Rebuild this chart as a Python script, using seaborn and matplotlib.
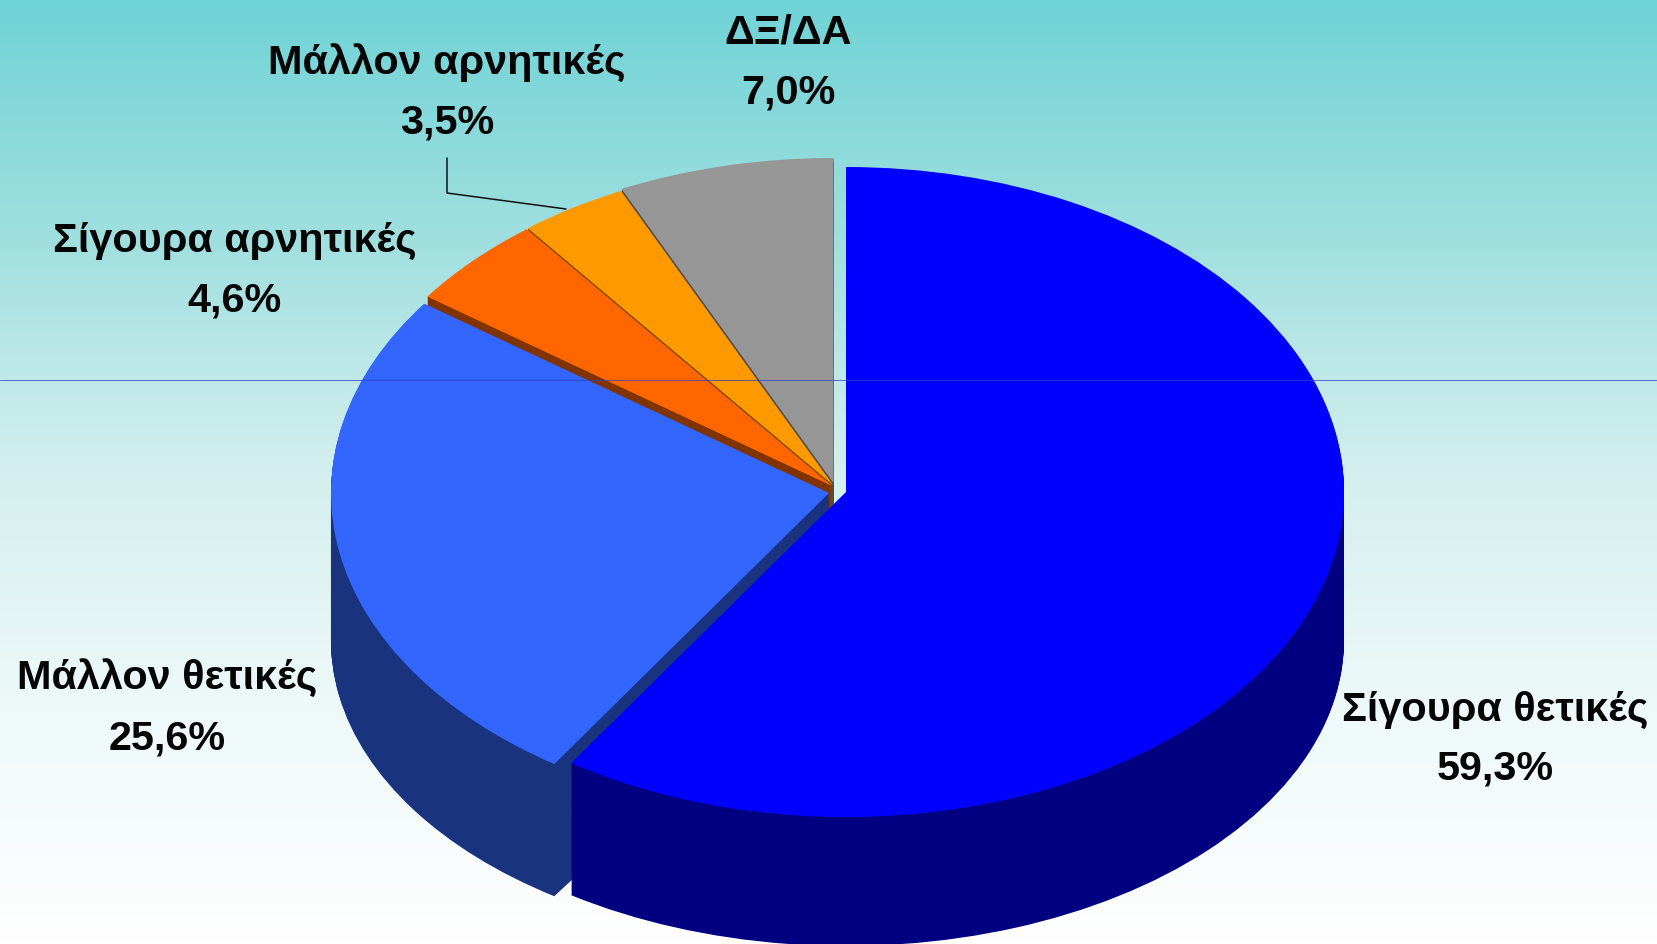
import numpy as np
import matplotlib
matplotlib.use("Agg")
import matplotlib.pyplot as plt
from matplotlib.transforms import Affine2D
import seaborn as sns

# Data
categories = ["Σίγουρα θετικές", "Μάλλον θετικές", "Σίγουρα αρνητικές", "Μάλλον αρνητικές", "ΔΞ/ΔΑ"]
shares = [59.3, 25.6, 4.6, 3.5, 7.0]

# Colours
top_colors = ["#0000FF", "#3366FF", "#FF6600", "#FF9900", "#969696"]
side_colors = ["#000080", "#1A337F", "#803300", "#804C00", "#4B4B4B"]
bg_stops = ["#70D3D6", "#A0DFDF", "#D4EFEF", "#EEF9F9", "#FFFFFF"]

# Layout in pixels of the 1657x944 picture
W, H = 1657, 944
CX, CY, RX, RY = 833, 485, 498, 325
DEPTH, BOTTOM_RY = 148, 306
slice_shift = [(13, 7), (-4, 8), (-1, 1), (0, 0), (0.5, -2)]
label_pos = [(1495, 710, 769), (167, 678, 738), (235, 241, 300), (447, 63, 122), (788, 33, 93)]

sns.set_theme(style="white")
plt.rcParams["font.family"] = ["Liberation Sans", "DejaVu Sans"]

fig = plt.figure(figsize=(W / 100, H / 100), dpi=100)
ax = fig.add_axes([0, 0, 1, 1])


def draw_layer(colors, depth):
    # one pie per layer, squashed to an ellipse and pushed down to fake the 3D look
    wedges, _ = ax.pie(shares, colors=colors, startangle=90, counterclock=False, radius=1)
    k = 1 - (1 - BOTTOM_RY / RY) * depth / DEPTH
    for w, (dx, dy) in zip(wedges, slice_shift):
        w.set_linewidth(0)
        w.set_transform(Affine2D().scale(1, k).translate(dx / RX, -(dy + depth) / RY) + ax.transData)


for depth in np.arange(DEPTH, 0, -1):
    draw_layer(side_colors, depth)
draw_layer(top_colors, 0)

ax.set_aspect("auto")
xlim = (-CX / RX, (W - CX) / RX)
ylim = ((CY - H) / RY, CY / RY)
ax.set_xlim(xlim)
ax.set_ylim(ylim)
ax.axis("off")

# Background gradient
gradient = np.array(sns.blend_palette(bg_stops, n_colors=H))[:, None, :]
ax.imshow(gradient, extent=(*xlim, *ylim), aspect="auto", origin="upper", zorder=0)
for p in ax.patches:
    p.set_zorder(1)


def px(x, y):
    return (x - CX) / RX, (CY - y) / RY


# Leader line of the small slice
leader = np.array([px(447, 158), px(447, 193), px(566, 209)])
ax.plot(leader[:, 0], leader[:, 1], color="#111111", lw=1.1, zorder=3)

# Thin line across the whole picture
ax.plot(xlim, [px(0, 380.5)[1]] * 2, color="#3040C0", alpha=0.7, lw=0.75, zorder=4)

# Labels
for name, share, (x, y1, y2) in zip(categories, shares, label_pos):
    pct = f"{share:.1f}%".replace(".", ",")
    ax.text(*px(x, y1), name, ha="center", va="center", fontsize=29.8, fontweight="bold", color="#050505", zorder=5)
    ax.text(*px(x, y2), pct, ha="center", va="center", fontsize=29.8, fontweight="bold", color="#050505", zorder=5)

fig.savefig("out.png", dpi=100)
plt.close(fig)
